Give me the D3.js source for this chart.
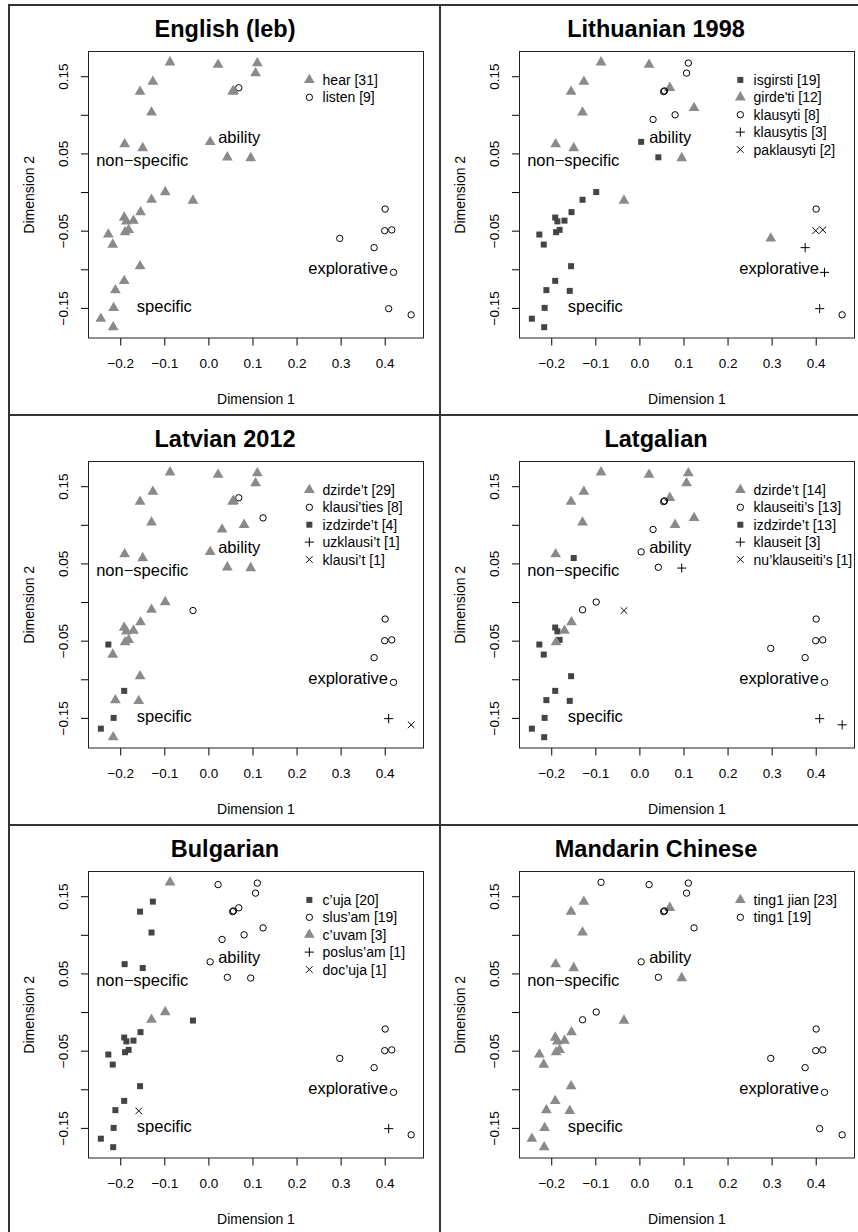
<!DOCTYPE html>
<html>
<head>
<meta charset="utf-8">
<script src="https://cdn.jsdelivr.net/npm/d3@7"></script>
<style>
  body { margin: 0; background: #fff; }
  svg { display: block; font-family: "Liberation Sans", Arial, Helvetica, sans-serif; }
</style>
</head>
<body>
<div id="stage"></div>
<script>
(function(d3) {
    'use strict';

    // shared MDS positions (one per context; index 34 sits almost on 33)
    var dim1 = [0.004, 0.043, -0.098, -0.129, -0.154, -0.191, -0.186, -0.170, -0.181, -0.189,
        -0.227, -0.217, -0.155, -0.191, -0.211, -0.158, -0.215, -0.244, -0.216, -0.087,
        0.022, -0.126, -0.155, 0.069, 0.124, -0.129, -0.190, -0.149, 0.096, -0.035,
        0.298, 0.111, 0.107, 0.055, 0.057, 0.031, 0.081, 0.401, 0.460, 0.376,
        0.420, 0.409, 0.400, 0.416];
    var dim2 = [0.065, 0.045, 0.000, -0.010, -0.026, -0.033, -0.038, -0.037, -0.049, -0.052,
        -0.055, -0.068, -0.096, -0.115, -0.127, -0.128, -0.150, -0.164, -0.175, 0.168,
        0.165, 0.143, 0.130, 0.135, 0.109, 0.103, 0.062, 0.057, 0.044, -0.011,
        -0.060, 0.167, 0.154, 0.130, 0.131, 0.094, 0.100, -0.022, -0.159, -0.072,
        -0.104, -0.151, -0.050, -0.049];

    var xTicks = [-0.2, -0.1, 0.0, 0.1, 0.2, 0.3, 0.4];
    var yTicks = [-0.15, -0.10, -0.05, 0, 0.05, 0.10, 0.15];
    var yLabelled = [-0.15, -0.05, 0.05, 0.15];

    var titles = ['English (leb)', 'Lithuanian 1998', 'Latvian 2012', 'Latgalian', 'Bulgarian', 'Mandarin Chinese'];

    // legend labels and marker per language
    var legendLabels = [
        ['hear [31]', 'listen [9]'],
        ['isgirsti [19]', 'girde\'ti [12]', 'klausyti [8]', 'klausytis [3]', 'paklausyti [2]'],
        ['dzirde\u2019t [29]', 'klausi\u2019ties [8]', 'izdzirde\u2019t [4]', 'uzklausi\u2019t [1]', 'klausi\u2019t [1]'],
        ['dzirde\u2019t [14]', 'klauseiti\u2019s [13]', 'izdzirde\u2019t [13]', 'klauseit [3]', 'nu\u2019klauseiti\u2019s [1]'],
        ['c\u2019uja [20]', 'slus\u2019am [19]', 'c\u2019uvam [3]', 'poslus\u2019am [1]', 'doc\u2019uja [1]'],
        ['ting1 jian [23]', 'ting1 [19]']
    ];
    var legendShapes = [
        ['triangle', 'circle'],
        ['square', 'triangle', 'circle', 'plus', 'cross'],
        ['triangle', 'circle', 'square', 'plus', 'cross'],
        ['triangle', 'circle', 'square', 'plus', 'cross'],
        ['square', 'circle', 'triangle', 'plus', 'cross'],
        ['triangle', 'circle']
    ];

    // category of each point per language (-1 = context not attested)
    var english = [0,0,0,0,0,0,0,0,0,0, 0,0,0,0,0,-1,0,0,0,0, 0,0,0,1,-1,0,0,0,0,0,
        1,0,0,0,0,-1,-1,1,1,1, 1,1,1,1];
    var lithuanian = [0,0,0,0,0,0,0,0,0,0, 0,0,0,0,0,0,0,0,0,1, 1,1,1,1,1,1,1,1,1,1,
        1,2,2,2,2,2,2,2,2,3, 3,3,4,4];
    var latvian = [0,0,0,0,0,0,0,0,0,0, 2,0,0,2,0,0,2,2,0,0, 0,0,0,1,1,0,0,0,0,1,
        -1,0,0,0,0,0,0,1,4,1, 1,3,1,1];
    var latgalian = [1,1,1,1,0,2,2,0,2,0, 2,2,2,2,2,2,2,2,2,0, 0,0,0,0,0,0,0,2,3,4,
        1,0,0,1,1,1,0,1,3,1, 1,3,1,1];
    var bulgarian = [1,1,2,2,0,0,0,0,0,0, 0,0,0,0,0,4,0,0,0,2, 1,0,0,1,1,0,0,0,1,0,
        1,1,1,1,1,1,1,1,1,1, 1,3,1,1];
    var mandarin = [1,1,1,1,0,0,0,0,0,0, 0,0,0,0,0,0,0,0,0,1, 1,0,0,0,1,0,0,0,0,0,
        1,1,1,1,1,-1,-1,1,1,1, 1,1,1,1];
    var groups = [english, lithuanian, latvian, latgalian, bulgarian, mandarin];

    var senses = ['ability', 'non\u2212specific', 'specific', 'explorative'];
    var senseX = [0.070, -0.150, -0.100, 0.317];
    var senseY = [0.071, 0.041, -0.148, -0.099];

    var W = 858, H = 1232,
        panelW = 431, panelH = 410,
        originX = 9, originY = 5,
        plot = { left: 79.5, top: 46.5, width: 335, height: 286.5 };

    var triFill = '#8a8a8a', sqFill = '#444';

    var svg = d3.select('#stage')
        .append('svg')
        .attr('width', W)
        .attr('height', H);

    var x = d3.scaleLinear().domain([-0.272, 0.488]).range([0, plot.width]);
    var y = d3.scaleLinear().domain([-0.189, 0.182]).range([plot.height, 0]);

    function drawShape(sel, shape) {
        if (shape === 'triangle') {
            sel.append('path')
                .attr('d', 'M0,-6.2L5.4,3.1L-5.4,3.1Z')
                .attr('fill', triFill);
        } else if (shape === 'square') {
            sel.append('rect')
                .attr('x', -3).attr('y', -3)
                .attr('width', 6).attr('height', 6)
                .attr('fill', sqFill);
        } else if (shape === 'circle') {
            sel.append('circle')
                .attr('r', 3.2)
                .attr('fill', 'none')
                .attr('stroke', '#000')
                .attr('stroke-width', 1);
        } else if (shape === 'plus') {
            sel.append('path')
                .attr('d', 'M-4.6,0H4.6M0,-4.6V4.6')
                .attr('stroke', '#000')
                .attr('stroke-width', 1);
        } else if (shape === 'cross') {
            sel.append('path')
                .attr('d', 'M-3.3,-3.3L3.3,3.3M-3.3,3.3L3.3,-3.3')
                .attr('stroke', '#000')
                .attr('stroke-width', 1);
        }
    }

    function fmt(v) {
        var s = d3.format('.2f')(Math.abs(v));
        return (v < 0 ? '\u2212' : '') + s;
    }

    titles.forEach(function(title, k) {
        var col = k % 2, row = Math.floor(k / 2),
            px = originX + col * panelW,
            py = originY + row * panelH;

        var panel = svg.append('g')
            .attr('transform', 'translate(' + px + ',' + py + ')');

        var g = panel.append('g')
            .attr('transform', 'translate(' + plot.left + ',' + plot.top + ')');

        panel.append('text')
            .attr('x', 216)
            .attr('y', plot.top - 15)
            .attr('text-anchor', 'middle')
            .style('font-size', '23.5px')
            .style('font-weight', 'bold')
            .text(title);

        // x axis
        var xAxis = g.append('g')
            .attr('transform', 'translate(0,' + plot.height + ')')
            .call(d3.axisBottom(x).tickValues(xTicks).tickSize(7.5).tickSizeOuter(0)
                .tickFormat(function(d) { return (d < 0 ? '\u2212' : '') + d3.format('.1f')(Math.abs(d)); }));
        xAxis.select('.domain').remove();
        xAxis.selectAll('line').attr('stroke', '#000');
        xAxis.selectAll('text')
            .attr('y', 20)
            .attr('dy', '0.71em')
            .attr('fill', '#000')
            .style('font-size', '13.5px')
            .style('font-family', '"Liberation Sans", Arial, sans-serif');

        // y axis
        var yAxis = g.append('g')
            .call(d3.axisLeft(y).tickValues(yTicks).tickSize(7.5).tickSizeOuter(0)
                .tickFormat(function(d) { return yLabelled.indexOf(d) >= 0 ? fmt(d) : ''; }));
        yAxis.select('.domain').remove();
        yAxis.selectAll('line').attr('stroke', '#000');
        yAxis.selectAll('text')
            .attr('x', null)
            .attr('dy', null)
            .attr('transform', 'translate(-21,0) rotate(-90)')
            .attr('text-anchor', 'middle')
            .attr('fill', '#000')
            .style('font-size', '13.5px')
            .style('font-family', '"Liberation Sans", Arial, sans-serif');

        g.append('rect')
            .attr('width', plot.width)
            .attr('height', plot.height)
            .attr('fill', 'none')
            .attr('stroke', '#222')
            .attr('stroke-width', 1);

        g.append('text')
            .attr('x', plot.width / 2)
            .attr('y', plot.height + 66)
            .attr('text-anchor', 'middle')
            .style('font-size', '14px')
            .text('Dimension 1');

        g.append('text')
            .attr('transform', 'translate(-55,' + (plot.height / 2) + ') rotate(-90)')
            .attr('text-anchor', 'middle')
            .style('font-size', '14px')
            .text('Dimension 2');

        // sense labels
        senses.forEach(function(s, i) {
            g.append('text')
                .attr('x', x(senseX[i]))
                .attr('y', y(senseY[i]))
                .attr('dy', '0.36em')
                .attr('text-anchor', 'middle')
                .style('font-size', '16.5px')
                .text(s);
        });

        // points
        var shapes = legendShapes[k];
        var pts = dim1.map(function(d, i) {
            return { x: d, y: dim2[i], c: groups[k][i] };
        }).filter(function(p) { return p.c >= 0; });

        g.selectAll('.pt')
            .data(pts)
            .enter()
            .append('g')
            .attr('class', 'pt')
            .attr('transform', function(p) { return 'translate(' + x(p.x) + ',' + y(p.y) + ')'; })
            .each(function(p) { drawShape(d3.select(this), shapes[p.c]); });

        // legend
        var leg = g.selectAll('.leg')
            .data(legendLabels[k])
            .enter()
            .append('g')
            .attr('class', 'leg')
            .attr('transform', function(d, i) {
                return 'translate(' + x(0.229) + ',' + (y(0.1452) + i * 17.4) + ')';
            });
        leg.each(function(d, i) { drawShape(d3.select(this), shapes[i]); });
        leg.append('text')
            .attr('x', x(0.259) - x(0.229))
            .attr('dy', '0.36em')
            .style('font-size', '14px')
            .text(function(d) { return d; });
    });

    // frame
    var frame = svg.append('g')
        .attr('fill', 'none')
        .attr('stroke', '#333')
        .attr('stroke-width', 2);
    d3.range(6).forEach(function(k) {
        frame.append('rect')
            .attr('x', originX + (k % 2) * panelW)
            .attr('y', originY + Math.floor(k / 2) * panelH)
            .attr('width', panelW)
            .attr('height', panelH);
    });

})(window.d3);
</script>
</body>
</html>
